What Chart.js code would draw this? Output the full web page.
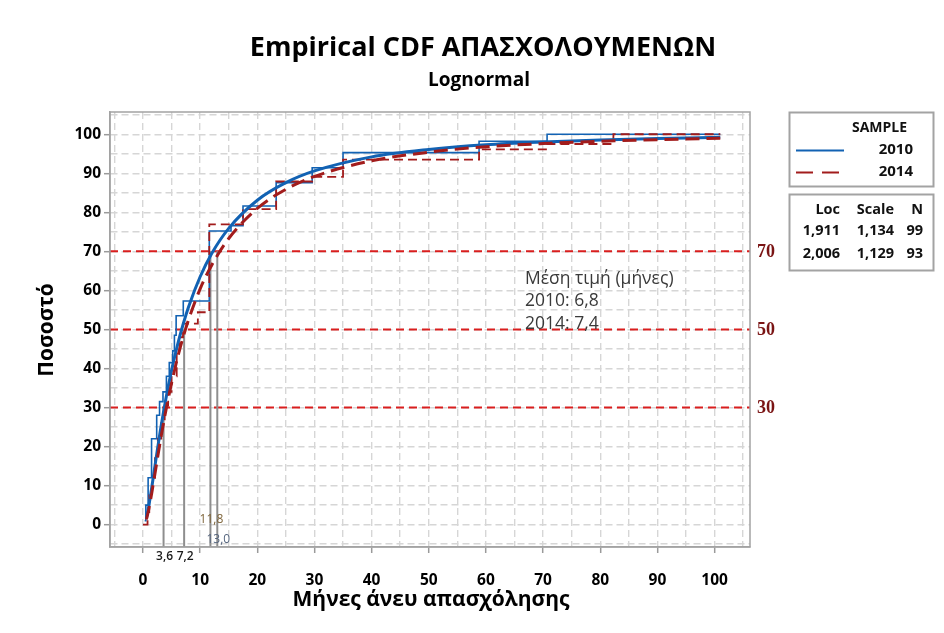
<!DOCTYPE html>
<html>
<head>
<meta charset="utf-8">
<title>Empirical CDF ΑΠΑΣΧΟΛΟΥΜΕΝΩΝ</title>
<script src="https://cdn.jsdelivr.net/npm/chart.js@4.4.1/dist/chart.umd.min.js"></script>
<style>
  html, body { margin: 0; padding: 0; background: #fff; }
  #wrap { width: 944px; height: 633px; }
</style>
</head>
<body>
<div id="wrap"><canvas id="cdf" width="944" height="633"></canvas></div>
<script>
// Fitted lognormal curves (percent)
const fitX = [0.6, 1, 1.5, 2, 2.5, 3, 4, 5, 6, 7, 8, 10, 12, 15, 20, 25, 30, 40, 50, 60, 70, 80, 90, 101];
const fit2010 = [1.6, 4.6, 9.2, 14.1, 19.0, 23.7, 32.2, 39.5, 45.8, 51.2, 55.9, 63.5, 69.4, 75.9, 83.1, 87.6, 90.6, 94.2, 96.1, 97.3, 98.0, 98.5, 98.9, 99.2];
const fit2014 = [1.3, 3.8, 7.8, 12.2, 16.7, 21.1, 29.2, 36.2, 42.5, 47.9, 52.6, 60.4, 66.4, 73.3, 81.0, 85.9, 89.2, 93.2, 95.4, 96.8, 97.6, 98.2, 98.6, 99.0];

// Empirical CDF steps: month where the step rises, percent after it
const step2010X = [0.3, 0.5, 0.9, 1.5, 2.4, 2.9, 3.5, 4.1, 4.6, 5.2, 5.5, 5.8, 7.05, 11.6, 15.4, 17.5, 23.3, 29.6, 35, 58.8, 70.7, 101];
const step2010Y = [1, 5, 12, 22, 28, 31.5, 34, 38, 41.5, 44.5, 48.5, 53.5, 57.3, 75.2, 76.6, 81.6, 87.6, 91.4, 95.3, 98.2, 100, 100];
const step2014X = [0, 0.8, 1.1, 1.6, 2.1, 2.6, 3.2, 3.8, 4.4, 5.0, 5.9, 6.4, 7.0, 9.6, 11.6, 17.5, 23.3, 29.6, 35, 58.8, 70.7, 82.3, 101];
const step2014Y = [0, 3.2, 7.5, 12, 17, 22, 26, 30.5, 34, 38, 44, 48, 51.5, 54.4, 76.9, 80.8, 87.9, 89.1, 93.5, 96.1, 97.5, 100, 100];

// Reference percent levels and the grey drop lines
const refLevels = [70, 50, 30];
const markX = [3.6, 7.2, 11.8, 13.0];
const markP = [30, 50, 70, 70];
const markLabels = ['3,6', '7,2', '11,8', '13,0'];

const seriesNames = ['2010', '2014'];
const statHead = ['Loc', 'Scale', 'N'];
const statRows = [['1,911', '1,134', '99'], ['2,006', '1,129', '93']];
const meanText = ['Μέση τιμή (μήνες)', '2010: 6,8', '2014: 7,4'];

const BLUE = '#1262b3';
const RED = '#a21c1c';
const FONT = '"Open Sans", "Noto Sans", sans-serif';

const pts = (xs, ys) => xs.map((x, i) => ({ x: x, y: ys[i] }));

const decorations = {
    id: 'decorations',
    beforeDatasetsDraw(chart) {
        const { ctx, chartArea: a, scales: { x, y } } = chart;
        ctx.save();
        // red dashed percent levels
        ctx.strokeStyle = '#d91e1e';
        ctx.lineWidth = 2;
        ctx.setLineDash([8, 5]);
        refLevels.forEach(v => {
            const py = y.getPixelForValue(v);
            ctx.beginPath();
            ctx.moveTo(a.left, py);
            ctx.lineTo(a.right, py);
            ctx.stroke();
        });
        // grey drop lines
        ctx.setLineDash([]);
        ctx.strokeStyle = '#8e8e8e';
        ctx.lineWidth = 2;
        markX.forEach((v, i) => {
            const px = x.getPixelForValue(v);
            ctx.beginPath();
            ctx.moveTo(px, a.bottom);
            ctx.lineTo(px, y.getPixelForValue(markP[i]));
            ctx.stroke();
        });
        ctx.restore();
    },
    afterDraw(chart) {
        const { ctx, chartArea: a, scales: { x, y } } = chart;
        ctx.save();

        // plot frame
        ctx.strokeStyle = '#a3a3a3';
        ctx.lineWidth = 1.5;
        ctx.strokeRect(a.left, a.top, a.right - a.left, a.bottom - a.top);

        // titles
        ctx.fillStyle = '#000';
        ctx.textAlign = 'center';
        ctx.textBaseline = 'middle';
        ctx.font = 'bold 27px ' + FONT;
        ctx.fillText('Empirical CDF ΑΠΑΣΧΟΛΟΥΜΕΝΩΝ', 483, 48);
        ctx.font = 'bold 19px ' + FONT;
        ctx.fillText('Lognormal', 479, 81);
        ctx.font = 'bold 21px ' + FONT;
        ctx.fillText('Μήνες άνευ απασχόλησης', 431, 600);
        ctx.save();
        ctx.translate(47, 330);
        ctx.rotate(-Math.PI / 2);
        ctx.fillText('Ποσοστό', 0, 0);
        ctx.restore();

        // percent labels at the right edge
        ctx.textAlign = 'left';
        ctx.fillStyle = '#7a1414';
        ctx.font = 'bold 18px "Liberation Serif", serif';
        refLevels.forEach(v => ctx.fillText(String(v), 757, y.getPixelForValue(v) + 1));

        // drop line values
        ctx.textAlign = 'center';
        const labelY = [557, 557, 520, 540];
        const labelC = ['#1a1a1a', '#1a1a1a', '#7d6338', '#55657e'];
        const labelF = ['600 12px ', '600 12px ', '12px ', '12px '];
        markX.forEach((v, i) => {
            ctx.fillStyle = labelC[i];
            ctx.font = labelF[i] + FONT;
            ctx.fillText(markLabels[i], x.getPixelForValue(v) + 1, labelY[i]);
        });

        // mean note
        ctx.textAlign = 'left';
        ctx.fillStyle = '#3a3a3a';
        ctx.font = '17.5px ' + FONT;
        [279, 301, 324].forEach((py, i) => ctx.fillText(meanText[i], 525, py));

        // legend box
        ctx.strokeStyle = '#a3a3a3';
        ctx.lineWidth = 2;
        ctx.strokeRect(789.5, 112.5, 144, 74);
        ctx.strokeRect(789.5, 194.5, 144, 76);
        ctx.fillStyle = '#111';
        ctx.font = 'bold 14px ' + FONT;
        ctx.fillText('SAMPLE', 852, 128);
        ctx.textAlign = 'right';
        ctx.font = 'bold 15px ' + FONT;
        ctx.fillText(seriesNames[0], 913, 150);
        ctx.fillText(seriesNames[1], 913, 172);
        ctx.lineWidth = 2;
        ctx.strokeStyle = BLUE;
        ctx.beginPath(); ctx.moveTo(796, 150.5); ctx.lineTo(844, 150.5); ctx.stroke();
        ctx.strokeStyle = RED;
        ctx.setLineDash([17, 9]);
        ctx.beginPath(); ctx.moveTo(796, 172.5); ctx.lineTo(844, 172.5); ctx.stroke();
        ctx.setLineDash([]);

        // fit statistics
        const colRight = [840, 894, 923];
        ctx.font = 'bold 14.5px ' + FONT;
        statHead.forEach((t, c) => ctx.fillText(t, colRight[c], 210));
        statRows.forEach((row, r) => {
            row.forEach((t, c) => ctx.fillText(t, colRight[c], 231 + r * 22.5));
        });

        ctx.restore();
    }
};

const gridTick = ctx => (ctx.tick && ctx.tick.value % 10 === 0) ? '#9a9a9a' : 'rgba(0,0,0,0)';

const chart = new Chart(document.getElementById('cdf'), {
    type: 'line',
    data: {
        datasets: [
            {
                label: '2010 empirical',
                data: pts(step2010X, step2010Y),
                stepped: 'before',
                borderColor: BLUE,
                borderWidth: 1.6,
                pointRadius: 0,
                fill: false,
                order: 4
            },
            {
                label: '2014 empirical',
                data: pts(step2014X, step2014Y),
                stepped: 'before',
                borderColor: RED,
                borderWidth: 1.8,
                borderDash: [9, 5],
                pointRadius: 0,
                fill: false,
                order: 3
            },
            {
                label: '2010',
                data: pts(fitX, fit2010),
                borderColor: BLUE,
                borderWidth: 3,
                cubicInterpolationMode: 'monotone',
                pointRadius: 0,
                fill: false,
                order: 2
            },
            {
                label: '2014',
                data: pts(fitX, fit2014),
                borderColor: RED,
                borderWidth: 3,
                borderDash: [14, 7],
                cubicInterpolationMode: 'monotone',
                pointRadius: 0,
                fill: false,
                order: 1
            }
        ]
    },
    options: {
        responsive: false,
        animation: false,
        devicePixelRatio: 1,
        layout: { padding: { left: 60, right: 194, top: 112, bottom: 46 } },
        plugins: {
            legend: { display: false },
            tooltip: { enabled: false },
            title: { display: false }
        },
        scales: {
            x: {
                type: 'linear',
                min: -5.77,
                max: 106.2,
                afterFit(scale) { scale.height = 40; },
                grid: { color: '#d6d6d6', lineWidth: 1.4, tickLength: 6, tickColor: gridTick, tickWidth: 1.5 },
                border: { dash: [7, 4], color: '#a3a3a3', width: 1.5 },
                ticks: {
                    stepSize: 5,
                    includeBounds: false,
                    autoSkip: false,
                    maxRotation: 0,
                    padding: 18,
                    color: '#000',
                    font: { family: FONT, weight: 'bold', size: 15.5 },
                    callback: v => (v % 10 === 0 && v >= 0 && v <= 100) ? String(v) : ''
                }
            },
            y: {
                type: 'linear',
                min: -5.74,
                max: 105.7,
                afterFit(scale) { scale.width = 50; },
                grid: { color: '#d6d6d6', lineWidth: 1.4, tickLength: 6, tickColor: gridTick, tickWidth: 1.5 },
                border: { dash: [7, 4], color: '#a3a3a3', width: 1.5 },
                ticks: {
                    stepSize: 5,
                    includeBounds: false,
                    autoSkip: false,
                    padding: 3,
                    color: '#000',
                    font: { family: FONT, weight: 'bold', size: 15.5 },
                    callback: v => (v % 10 === 0 && v >= 0 && v <= 100) ? String(v) : ''
                }
            }
        }
    },
    plugins: [decorations]
});
</script>
</body>
</html>
